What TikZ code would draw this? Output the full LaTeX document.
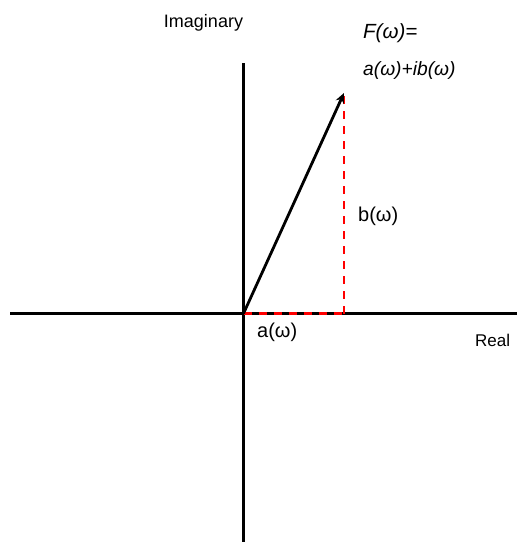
\documentclass[tikz,border=0pt]{standalone}
\usepackage{fontspec}
\setmainfont{Liberation Sans}
\usetikzlibrary{arrows,arrows.meta,positioning}

\begin{document}
\begin{tikzpicture}[x=1pt, y=-1pt]
    % Define styles
    \tikzstyle{axis} = [line width=2.9pt]
    \tikzstyle{vector} = [line width=2.8pt,-{Stealth[length=10pt,width=9pt]}]
    \tikzstyle{part} = [red, line width=2.4pt, dash pattern=on 8pt off 7pt]
    \tikzstyle{axislabel} = [font=\fontsize{18}{20}\selectfont, inner sep=0pt]
    \tikzstyle{label} = [font=\fontsize{20}{23}\selectfont, inner sep=0pt, anchor=west]
    \useasboundingbox (0,0) rectangle (517,542);

    % Coordinates
    \coordinate (origin) at (243.5,313.5);
    \coordinate (left) at (10,313.5);
    \coordinate (right) at (517,313.5);
    \coordinate (top) at (243.5,63);
    \coordinate (bottom) at (243.5,542);
    \coordinate (tip) at (344,93);
    \coordinate (foot) at (344,313.5);

    % Nodes
    \node [axislabel] (imag) at (203.5,23) {Imaginary};
    \node [axislabel, anchor=west, font=\fontsize{17}{19}\selectfont] (real) at (475,340) {Real};
    \node [label, font=\fontsize{20.5}{23}\selectfont\itshape] (fw) at (363,33) {F(ω)=};
    \node [label, font=\fontsize{19.2}{22}\selectfont\itshape] (sum) at (363,71) {a(ω)+ib(ω)};
    \node [label] (bw) at (358,216) {b(ω)};
    \node [label] (aw) at (257,332) {a(ω)};

    % Arrows
    \draw [axis] (left) -- (right);
    \draw [axis] (top) -- (bottom);
    \draw [part] (foot) -- (tip);
    \draw [part] (origin) -- (foot);
    \draw [vector] (origin) -- (tip);
\end{tikzpicture}
\end{document}
